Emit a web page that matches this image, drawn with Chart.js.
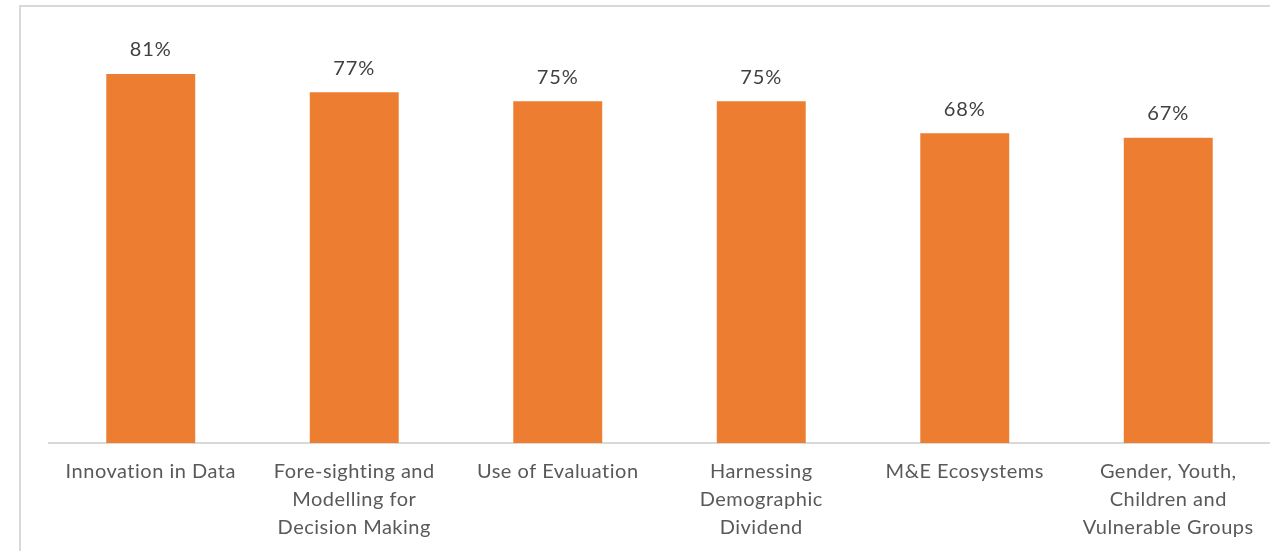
<!DOCTYPE html>
<html>
<head>
<meta charset="utf-8">
<script src="https://cdn.jsdelivr.net/npm/chart.js@4.4.1/dist/chart.umd.min.js"></script>
<style>
  html, body { margin: 0; padding: 0; background: #fff; overflow: hidden; }
  #wrap { position: relative; width: 1270px; height: 551px; overflow: hidden; }
  #frame { position: absolute; left: 19px; top: 5px; width: 1300px; height: 600px; border: 2px solid #d9d9d9; box-sizing: border-box; }
  #cv { position: absolute; left: 0; top: 0; }
</style>
</head>
<body>
<div id="wrap">
  <div id="frame"></div>
  <canvas id="cv" width="1270" height="557"></canvas>
</div>
<script>
// categories and scores (percent)
const categories = ['Innovation in Data', 'Fore-sighting and Modelling for Decision Making', 'Use of Evaluation',
  'Harnessing Demographic Dividend', 'M&E Ecosystems', 'Gender, Youth, Children and Vulnerable Groups'];
const scores = [81, 77, 75, 75, 68, 67];
// wrapped axis labels
const tickLabels = [
  ['Innovation in Data'],
  ['Fore-sighting and', 'Modelling for', 'Decision Making'],
  ['Use of Evaluation'],
  ['Harnessing', 'Demographic', 'Dividend'],
  ['M&E Ecosystems'],
  ['Gender, Youth,', 'Children and', 'Vulnerable Groups']
];

const FONT = "Lato, 'Open Sans', sans-serif";

// slightly spaced lettering for the axis labels
const spacing = {
  id: 'spacing',
  beforeDraw(chart) { chart.ctx.letterSpacing = '0.5px'; }
};

// value labels above each bar
const valueLabels = {
  id: 'valueLabels',
  afterDatasetsDraw(chart) {
    const ctx = chart.ctx;
    const meta = chart.getDatasetMeta(0);
    ctx.save();
    ctx.letterSpacing = '1px';
    ctx.font = '20px ' + FONT;
    ctx.fillStyle = '#404040';
    ctx.textAlign = 'center';
    ctx.textBaseline = 'middle';
    meta.data.forEach((bar, i) => {
      ctx.fillText(scores[i] + '%', bar.x, bar.y - 24);
    });
    ctx.restore();
  }
};

new Chart(document.getElementById('cv'), {
  type: 'bar',
  data: {
    labels: tickLabels,
    datasets: [{
      label: 'Score',
      data: scores,
      backgroundColor: '#ed7d31',
      borderWidth: 0,
      barPercentage: 1,
      categoryPercentage: 0.437
    }]
  },
  options: {
    responsive: false,
    animation: false,
    layout: { padding: { left: 49, right: 0, top: 33, bottom: 0 } },
    plugins: {
      legend: { display: false },
      tooltip: { enabled: false }
    },
    scales: {
      x: {
        grid: { display: false, drawTicks: false },
        border: { display: true, color: '#d9d9d9', width: 2 },
        ticks: {
          color: '#595959',
          font: { family: FONT, size: 20, lineHeight: 1.4 },
          padding: 15,
          maxRotation: 0,
          autoSkip: false
        }
      },
      y: {
        display: false,
        min: 0,
        max: 90
      }
    }
  },
  plugins: [spacing, valueLabels]
});
</script>
</body>
</html>
